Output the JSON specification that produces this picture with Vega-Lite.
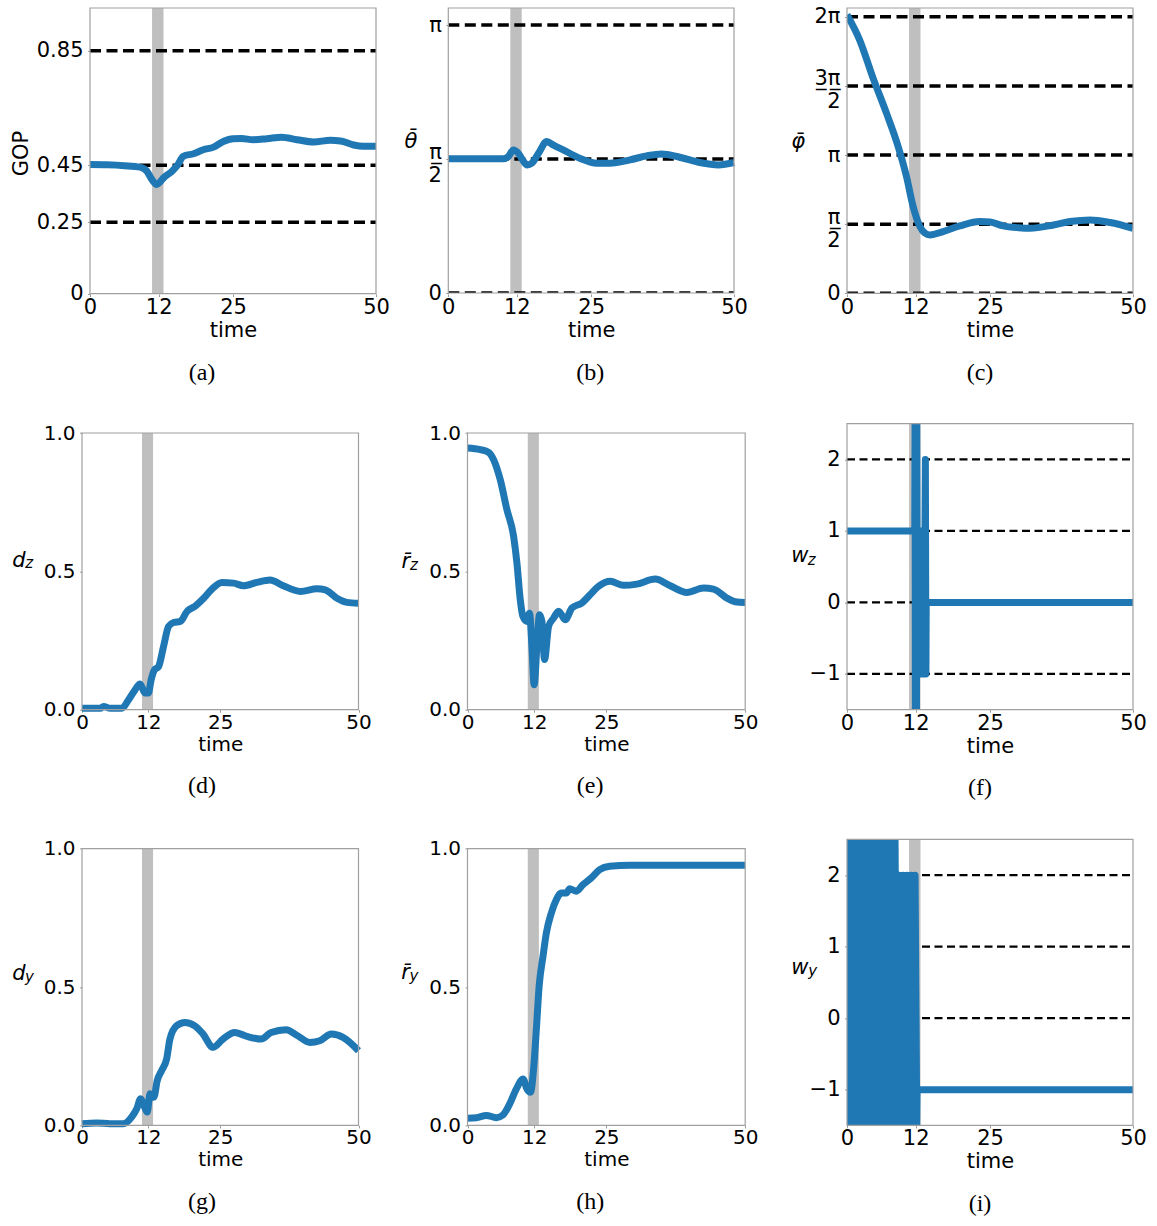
{
  "$schema": "https://vega.github.io/schema/vega-lite/v6.json",
  "padding": {"left": 0, "top": 5, "right": 0, "bottom": 0},
  "background": "white",
  "columns": 3,
  "spacing": {"row": 129.7, "column": 50},
  "bounds": "flush",
  "align": "each",
  "datasets": {
    "band": [{"time": 10.85, "end": 12.85}],
    "ref_a": [{"value": 0.25}, {"value": 0.45}, {"value": 0.85}],
    "ref_b": [{"value": 0}, {"value": 1.5707963}, {"value": 3.1415927}],
    "ref_c": [{"value": 0}, {"value": 1.5707963}, {"value": 3.1415927}, {"value": 4.712389}, {"value": 6.2831853}],
    "ref_w": [{"value": -1}, {"value": 0}, {"value": 1}, {"value": 2}],
    "gop": [{"time":0,"value":0.452},{"time":3,"value":0.451},{"time":6,"value":0.448},{"time":8.75,"value":0.443},{"time":9.9,"value":0.43},{"time":10.8,"value":0.4},{"time":11.67,"value":0.382},{"time":12.2,"value":0.39},{"time":12.83,"value":0.405},{"time":14.3,"value":0.428},{"time":15.3,"value":0.45},{"time":16.3,"value":0.481},{"time":18.1,"value":0.49},{"time":19.8,"value":0.504},{"time":21.6,"value":0.513},{"time":23.3,"value":0.533},{"time":25,"value":0.5425},{"time":26.5,"value":0.543},{"time":28.5,"value":0.539},{"time":30.9,"value":0.5425},{"time":33.5,"value":0.548},{"time":36.2,"value":0.539},{"time":39.1,"value":0.531},{"time":42,"value":0.537},{"time":43.8,"value":0.5345},{"time":46.1,"value":0.5205},{"time":47.8,"value":0.516},{"time":50,"value":0.516}],
    "theta": [{"time":0,"value":1.573},{"time":9.6,"value":1.573},{"time":10.5,"value":1.6},{"time":11.4,"value":1.678},{"time":12.25,"value":1.639},{"time":13,"value":1.56},{"time":13.8,"value":1.502},{"time":14.6,"value":1.522},{"time":15.9,"value":1.65},{"time":17.2,"value":1.776},{"time":18.5,"value":1.73},{"time":20.1,"value":1.678},{"time":23,"value":1.581},{"time":26,"value":1.522},{"time":28.3,"value":1.522},{"time":31.8,"value":1.561},{"time":34.7,"value":1.608},{"time":37.3,"value":1.631},{"time":40.5,"value":1.592},{"time":44,"value":1.53},{"time":47.3,"value":1.502},{"time":50,"value":1.53}],
    "phi": [{"time":0,"value":6.33},{"time":2.2,"value":5.76},{"time":4.56,"value":4.89},{"time":6.9,"value":4.094},{"time":8.94,"value":3.336},{"time":10.4,"value":2.654},{"time":11.56,"value":1.972},{"time":12.74,"value":1.517},{"time":13.6,"value":1.37},{"time":14.5,"value":1.326},{"time":16.8,"value":1.403},{"time":19.7,"value":1.531},{"time":23.2,"value":1.631},{"time":25,"value":1.62},{"time":27.3,"value":1.531},{"time":30,"value":1.49},{"time":32,"value":1.478},{"time":36.1,"value":1.553},{"time":39,"value":1.63},{"time":42.5,"value":1.667},{"time":46,"value":1.608},{"time":50,"value":1.478}],
    "dz": [{"time":0,"value":0.005},{"time":3.3,"value":0.005},{"time":3.9,"value":0.012},{"time":5.1,"value":0.005},{"time":7.2,"value":0.005},{"time":8.4,"value":0.035},{"time":9.6,"value":0.072},{"time":10.5,"value":0.093},{"time":11.4,"value":0.06},{"time":12,"value":0.06},{"time":12.5,"value":0.108},{"time":13.1,"value":0.144},{"time":13.85,"value":0.156},{"time":14.75,"value":0.229},{"time":15.65,"value":0.301},{"time":16.56,"value":0.315},{"time":17.77,"value":0.319},{"time":18.98,"value":0.355},{"time":20.5,"value":0.375},{"time":22,"value":0.403},{"time":23.5,"value":0.436},{"time":25.3,"value":0.46},{"time":27.4,"value":0.4575},{"time":29.2,"value":0.448},{"time":31.6,"value":0.46},{"time":34,"value":0.469},{"time":36.4,"value":0.448},{"time":39.5,"value":0.4275},{"time":42.5,"value":0.437},{"time":44,"value":0.433},{"time":46.1,"value":0.403},{"time":47.9,"value":0.388},{"time":50,"value":0.385}],
    "rz": [{"time":0,"value":0.946},{"time":2.3,"value":0.94},{"time":3.8,"value":0.93},{"time":4.7,"value":0.9035},{"time":5.9,"value":0.831},{"time":7.1,"value":0.723},{"time":8.3,"value":0.627},{"time":8.9,"value":0.53},{"time":9.5,"value":0.3975},{"time":9.97,"value":0.3375},{"time":10.7,"value":0.319},{"time":11.16,"value":0.349},{"time":11.6,"value":0.229},{"time":12,"value":0.09},{"time":12.5,"value":0.229},{"time":12.96,"value":0.343},{"time":13.4,"value":0.32},{"time":13.87,"value":0.181},{"time":14.6,"value":0.301},{"time":15.5,"value":0.331},{"time":16.4,"value":0.356},{"time":17.6,"value":0.325},{"time":18.8,"value":0.3675},{"time":20.6,"value":0.386},{"time":22.1,"value":0.416},{"time":23.6,"value":0.446},{"time":25.7,"value":0.464},{"time":28.1,"value":0.4495},{"time":30.5,"value":0.454},{"time":33.8,"value":0.472},{"time":36.5,"value":0.448},{"time":39.5,"value":0.424},{"time":42.5,"value":0.44},{"time":44.3,"value":0.436},{"time":46.7,"value":0.4035},{"time":48.2,"value":0.39},{"time":50,"value":0.387}],
    "wz": [{"time":0,"value":1},{"time":11.85,"value":1},{"time":11.9,"value":2.5},{"time":11.95,"value":-1.5},{"time":12.0,"value":2.5},{"time":12.05,"value":-1.5},{"time":12.1,"value":2.5},{"time":12.15,"value":-1.5},{"time":12.2,"value":2.5},{"time":12.3,"value":-1},{"time":12.4,"value":1},{"time":12.5,"value":-1},{"time":12.6,"value":1},{"time":12.7,"value":-1},{"time":12.8,"value":1},{"time":12.9,"value":-1},{"time":13.0,"value":1},{"time":13.1,"value":-1},{"time":13.2,"value":1},{"time":13.3,"value":-1},{"time":13.4,"value":1},{"time":13.5,"value":-1},{"time":13.7,"value":2},{"time":13.8,"value":-1},{"time":13.85,"value":0},{"time":50,"value":0}],
    "dy": [{"time":0,"value":0.006},{"time":2.65,"value":0.009},{"time":5.05,"value":0.006},{"time":7.45,"value":0.006},{"time":8.97,"value":0.03},{"time":9.9,"value":0.06},{"time":10.6,"value":0.096},{"time":11.2,"value":0.072},{"time":11.8,"value":0.048},{"time":12.3,"value":0.114},{"time":13,"value":0.102},{"time":13.6,"value":0.162},{"time":14.4,"value":0.198},{"time":15.3,"value":0.24},{"time":15.9,"value":0.312},{"time":17.1,"value":0.36},{"time":18.6,"value":0.372},{"time":20.4,"value":0.36},{"time":21.9,"value":0.33},{"time":23.7,"value":0.282},{"time":25.5,"value":0.312},{"time":27.6,"value":0.336},{"time":30,"value":0.3205},{"time":32.4,"value":0.312},{"time":34.2,"value":0.336},{"time":36.9,"value":0.346},{"time":39,"value":0.324},{"time":41.2,"value":0.3},{"time":43,"value":0.306},{"time":45.1,"value":0.33},{"time":47.2,"value":0.318},{"time":50,"value":0.27}],
    "ry": [{"time":0,"value":0.026},{"time":1.6,"value":0.028},{"time":3.4,"value":0.036},{"time":5.2,"value":0.028},{"time":6.4,"value":0.038},{"time":7.6,"value":0.078},{"time":8.8,"value":0.132},{"time":10,"value":0.168},{"time":10.7,"value":0.132},{"time":11.35,"value":0.12},{"time":11.9,"value":0.204},{"time":12.4,"value":0.348},{"time":12.9,"value":0.504},{"time":13.6,"value":0.612},{"time":14.2,"value":0.696},{"time":15.1,"value":0.768},{"time":16,"value":0.816},{"time":16.9,"value":0.84},{"time":17.8,"value":0.84},{"time":18.4,"value":0.855},{"time":19.6,"value":0.8465},{"time":20.8,"value":0.87},{"time":22.3,"value":0.8945},{"time":23.8,"value":0.924},{"time":25.6,"value":0.9365},{"time":29.2,"value":0.94},{"time":37,"value":0.94},{"time":50,"value":0.94}],
    "wy": [{"time":0,"value":2.5},{"time":0.35,"value":-1.5},{"time":0.7,"value":2.5},{"time":1.05,"value":-1.5},{"time":1.4,"value":2.5},{"time":1.75,"value":-1.5},{"time":2.1,"value":2.5},{"time":2.45,"value":-1.5},{"time":2.8,"value":2.5},{"time":3.15,"value":-1.5},{"time":3.5,"value":2.5},{"time":3.85,"value":-1.5},{"time":4.2,"value":2.5},{"time":4.55,"value":-1.5},{"time":4.9,"value":2.5},{"time":5.25,"value":-1.5},{"time":5.6,"value":2.5},{"time":5.95,"value":-1.5},{"time":6.3,"value":2.5},{"time":6.65,"value":-1.5},{"time":7.0,"value":2.5},{"time":7.35,"value":-1.5},{"time":7.7,"value":2.5},{"time":8.05,"value":-1.5},{"time":8.4,"value":2.5},{"time":8.75,"value":-1.5},{"time":9.1,"value":2},{"time":9.45,"value":-1.5},{"time":9.8,"value":2},{"time":10.15,"value":-1.5},{"time":10.5,"value":2},{"time":10.85,"value":-1.5},{"time":11.2,"value":2},{"time":11.55,"value":-1.5},{"time":11.9,"value":2},{"time":12.2,"value":-1.5},{"time":12.25,"value":-1},{"time":50,"value":-1}]
  },
  "concat": [
    {
      "width": 376, "height": 286,
      "title": {"text": "(a)", "dx": 14},
      "layer": [
        {"data": {"name": "band"}, "mark": {"type": "rect", "color": "#bfbfbf"}, "encoding": {"x": {"field": "time", "type": "quantitative", "scale": {"domain": [0, 50], "range": [90, 376], "nice": false, "zero": false}}, "x2": {"field": "end"}, "y": {"datum": 0, "type": "quantitative", "scale": {"domain": [0, 1], "range": [285.7, 0], "nice": false, "zero": false}}, "y2": {"datum": 1}}},
        {"data": {"name": "ref_a"}, "mark": {"type": "rule", "color": "#000000", "strokeWidth": 3.5, "strokeDash": [11, 5.5]}, "encoding": {"x": {"datum": 0, "type": "quantitative"}, "x2": {"datum": 50}, "y": {"field": "value", "type": "quantitative"}}},
        {"data": {"name": "gop"}, "mark": {"type": "line", "color": "#1f77b4", "strokeWidth": 7, "strokeCap": "butt", "strokeJoin": "round", "interpolate": "monotone"}, "encoding": {
          "x": {"field": "time", "type": "quantitative", "axis": {"values": [0, 12, 25, 50], "format": "d", "title": "time"}},
          "y": {"field": "value", "type": "quantitative", "axis": {"values": [0, 0.25, 0.45, 0.85], "labelExpr": "datum.value == 0 ? '0' : format(datum.value, '.2f')", "offset": -90, "title": "GOP", "titleAngle": 270, "titleX": -69, "titleY": 145, "titleAlign": "center", "titleBaseline": "middle"}}}},
        {"data": {"values": [{}]}, "mark": {"type": "rect", "filled": false, "stroke": "#a0a0a0", "strokeWidth": 1.2}, "encoding": {"x": {"datum": 0, "type": "quantitative"}, "x2": {"datum": 50}, "y": {"datum": 0, "type": "quantitative"}, "y2": {"datum": 1}}}
      ]
    },
    {
      "width": 370.3, "height": 286,
      "title": {"text": "(b)", "dx": -21},
      "layer": [
        {"data": {"name": "band"}, "mark": {"type": "rect", "color": "#bfbfbf"}, "encoding": {"x": {"field": "time", "type": "quantitative", "scale": {"domain": [0, 50], "range": [22.3, 308], "nice": false, "zero": false}}, "x2": {"field": "end"}, "y": {"datum": 0, "type": "quantitative", "scale": {"domain": [0, 3.3416], "range": [285, 0], "nice": false, "zero": false}}, "y2": {"datum": 3.3416}}},
        {"data": {"name": "ref_b"}, "transform": [{"filter": "datum.value > 0"}], "mark": {"type": "rule", "color": "#000000", "strokeWidth": 3.5, "strokeDash": [11, 5.5]}, "encoding": {"x": {"datum": 0, "type": "quantitative"}, "x2": {"datum": 50}, "y": {"field": "value", "type": "quantitative"}}},
        {"data": {"name": "ref_b"}, "transform": [{"filter": "datum.value == 0"}], "mark": {"type": "rule", "color": "#000000", "strokeWidth": 1.8, "yOffset": -0.9, "strokeDash": [11, 5.5]}, "encoding": {"x": {"datum": 0, "type": "quantitative"}, "x2": {"datum": 50}, "y": {"field": "value", "type": "quantitative"}}},
        {"data": {"name": "theta"}, "mark": {"type": "line", "color": "#1f77b4", "strokeWidth": 7, "strokeCap": "butt", "strokeJoin": "round", "interpolate": "monotone"}, "encoding": {
          "x": {"field": "time", "type": "quantitative", "axis": {"values": [0, 12, 25, 50], "format": "d", "title": "time"}},
          "y": {"field": "value", "type": "quantitative", "axis": {"values": [0, 1.5707963, 3.1415927], "labelExpr": "datum.value < 0.1 ? '0' : datum.value < 2 ? ['\u03c0\u0332', '2'] : '\u03c0'", "labelLineHeight": 23, "labelOffset": {"condition": {"test": "datum.value > 1 && datum.value < 2", "value": -7}, "value": 0}, "offset": -22.3, "title": "\u03b8\u0304", "titleFontSize": 21, "titleFontStyle": "italic", "titleAngle": 0, "titleX": -37.8, "titleY": 139, "titleAlign": "center", "titleBaseline": "alphabetic"}}}},
        {"data": {"values": [{}]}, "mark": {"type": "rect", "filled": false, "stroke": "#a0a0a0", "strokeWidth": 1.2}, "encoding": {"x": {"datum": 0, "type": "quantitative"}, "x2": {"datum": 50}, "y": {"datum": 0, "type": "quantitative"}, "y2": {"datum": 3.3416}}}
      ]
    },
    {
      "width": 286, "height": 286,
      "title": {"text": "(c)", "dx": -10},
      "layer": [
        {"data": {"name": "band"}, "mark": {"type": "rect", "color": "#bfbfbf"}, "encoding": {"x": {"field": "time", "type": "quantitative", "scale": {"domain": [0, 50], "range": [0, 286], "nice": false, "zero": false}}, "x2": {"field": "end"}, "y": {"datum": 0, "type": "quantitative", "scale": {"domain": [0, 6.4832], "range": [285.3, 0], "nice": false, "zero": false}}, "y2": {"datum": 6.4832}}},
        {"data": {"name": "ref_c"}, "transform": [{"filter": "datum.value > 0"}], "mark": {"type": "rule", "color": "#000000", "strokeWidth": 3.5, "strokeDash": [11, 5.5]}, "encoding": {"x": {"datum": 0, "type": "quantitative"}, "x2": {"datum": 50}, "y": {"field": "value", "type": "quantitative"}}},
        {"data": {"name": "ref_c"}, "transform": [{"filter": "datum.value == 0"}], "mark": {"type": "rule", "color": "#000000", "strokeWidth": 1.8, "yOffset": -0.9, "strokeDash": [11, 5.5]}, "encoding": {"x": {"datum": 0, "type": "quantitative"}, "x2": {"datum": 50}, "y": {"field": "value", "type": "quantitative"}}},
        {"data": {"name": "phi"}, "mark": {"type": "line", "color": "#1f77b4", "strokeWidth": 7, "strokeCap": "butt", "strokeJoin": "round", "clip": true, "interpolate": "monotone"}, "encoding": {
          "x": {"field": "time", "type": "quantitative", "axis": {"values": [0, 12, 25, 50], "format": "d", "title": "time"}},
          "y": {"field": "value", "type": "quantitative", "axis": {"values": [0, 1.5707963, 3.1415927, 4.712389, 6.2831853], "labelExpr": "datum.value < 0.1 ? '0' : datum.value < 2 ? ['\u03c0\u0332', '2'] : datum.value < 4 ? '\u03c0' : datum.value < 5 ? ['3\u0332\u03c0\u0332', '2'] : '2\u03c0'", "labelLineHeight": 23, "labelOffset": {"condition": {"test": "(datum.value > 1 && datum.value < 2) || (datum.value > 4 && datum.value < 5)", "value": -7}, "value": 0}, "title": "\u03c6\u0304", "titleFontSize": 21, "titleFontStyle": "italic", "titleAngle": 0, "titleX": -49.3, "titleY": 139, "titleAlign": "center", "titleBaseline": "alphabetic"}}}},
        {"data": {"values": [{}]}, "mark": {"type": "rect", "filled": false, "stroke": "#a0a0a0", "strokeWidth": 1.2}, "encoding": {"x": {"datum": 0, "type": "quantitative"}, "x2": {"datum": 50}, "y": {"datum": 0, "type": "quantitative"}, "y2": {"datum": 6.4832}}}
      ]
    },
    {
      "width": 376, "height": 286,
      "title": {"text": "(d)", "dx": 14},
      "layer": [
        {"data": {"name": "band"}, "mark": {"type": "rect", "color": "#bfbfbf"}, "encoding": {"x": {"field": "time", "type": "quantitative", "scale": {"domain": [0, 50], "range": [82, 358.5], "nice": false, "zero": false}}, "x2": {"field": "end"}, "y": {"datum": 0, "type": "quantitative", "scale": {"domain": [0, 1], "range": [286, 9.3], "nice": false, "zero": false}}, "y2": {"datum": 1}}},
        {"data": {"name": "dz"}, "mark": {"type": "line", "color": "#1f77b4", "strokeWidth": 7, "strokeCap": "butt", "strokeJoin": "round", "interpolate": "monotone"}, "encoding": {
          "x": {"field": "time", "type": "quantitative", "axis": {"values": [0, 12, 25, 50], "format": "d", "title": "time", "labelFontSize": 20, "titleFontSize": 20}},
          "y": {"field": "value", "type": "quantitative", "axis": {"values": [0, 0.5, 1], "labelExpr": "format(datum.value, '.1f')", "labelFontSize": 20, "offset": -82, "title": "d", "titleFontSize": 21, "titleFontStyle": "italic", "titleAngle": 0, "titleX": -63.7, "titleY": 142.6, "titleAlign": "center", "titleBaseline": "alphabetic"}}}},
        {"data": {"values": [{}]}, "mark": {"type": "rect", "filled": false, "stroke": "#a0a0a0", "strokeWidth": 1.2}, "encoding": {"x": {"datum": 0, "type": "quantitative"}, "x2": {"datum": 50}, "y": {"datum": 0, "type": "quantitative"}, "y2": {"datum": 1}}},
        {"data": {"values": [{}]}, "mark": {"type": "text", "text": "z", "font": "DejaVu Sans", "fontStyle": "italic", "fontSize": 15, "align": "center", "baseline": "alphabetic", "dx": -52.8, "dy": -3.4, "color": "#000000"}, "encoding": {"x": {"datum": 0, "type": "quantitative"}, "y": {"datum": 0.5, "type": "quantitative"}}}
      ]
    },
    {
      "width": 370.3, "height": 286,
      "title": {"text": "(e)", "dx": -21},
      "layer": [
        {"data": {"name": "band"}, "mark": {"type": "rect", "color": "#bfbfbf"}, "encoding": {"x": {"field": "time", "type": "quantitative", "scale": {"domain": [0, 50], "range": [41.5, 319.2], "nice": false, "zero": false}}, "x2": {"field": "end"}, "y": {"datum": 0, "type": "quantitative", "scale": {"domain": [0, 1], "range": [286, 9.3], "nice": false, "zero": false}}, "y2": {"datum": 1}}},
        {"data": {"name": "rz"}, "mark": {"type": "line", "color": "#1f77b4", "strokeWidth": 7, "strokeCap": "butt", "strokeJoin": "round", "interpolate": "monotone"}, "encoding": {
          "x": {"field": "time", "type": "quantitative", "axis": {"values": [0, 12, 25, 50], "format": "d", "title": "time", "labelFontSize": 20, "titleFontSize": 20}},
          "y": {"field": "value", "type": "quantitative", "axis": {"values": [0, 0.5, 1], "labelExpr": "format(datum.value, '.1f')", "labelFontSize": 20, "offset": -41.5, "title": "r\u0304", "titleFontSize": 21, "titleFontStyle": "italic", "titleAngle": 0, "titleX": -62.2, "titleY": 143.3, "titleAlign": "center", "titleBaseline": "alphabetic"}}}},
        {"data": {"values": [{}]}, "mark": {"type": "rect", "filled": false, "stroke": "#a0a0a0", "strokeWidth": 1.2}, "encoding": {"x": {"datum": 0, "type": "quantitative"}, "x2": {"datum": 50}, "y": {"datum": 0, "type": "quantitative"}, "y2": {"datum": 1}}},
        {"data": {"values": [{}]}, "mark": {"type": "text", "text": "z", "font": "DejaVu Sans", "fontStyle": "italic", "fontSize": 15, "align": "center", "baseline": "alphabetic", "dx": -53.5, "dy": -1.7, "color": "#000000"}, "encoding": {"x": {"datum": 0, "type": "quantitative"}, "y": {"datum": 0.5, "type": "quantitative"}}}
      ]
    },
    {
      "width": 286, "height": 286,
      "title": {"text": "(f)", "dx": -10},
      "layer": [
        {"data": {"name": "band"}, "mark": {"type": "rect", "color": "#bfbfbf"}, "encoding": {"x": {"field": "time", "type": "quantitative", "scale": {"domain": [0, 50], "range": [0, 286], "nice": false, "zero": false}}, "x2": {"field": "end"}, "y": {"datum": -1.5, "type": "quantitative", "scale": {"domain": [-1.5, 2.5], "range": [286, 0], "nice": false, "zero": false}}, "y2": {"datum": 2.5}}},
        {"data": {"name": "ref_w"}, "mark": {"type": "rule", "color": "#000000", "strokeWidth": 2.2, "strokeDash": [8, 4.5]}, "encoding": {"x": {"datum": 0, "type": "quantitative"}, "x2": {"datum": 50}, "y": {"field": "value", "type": "quantitative"}}},
        {"data": {"name": "wz"}, "mark": {"type": "line", "color": "#1f77b4", "strokeWidth": 7, "strokeCap": "butt", "strokeJoin": "round", "clip": true}, "encoding": {
          "x": {"field": "time", "type": "quantitative", "axis": {"values": [0, 12, 25, 50], "format": "d", "title": "time"}},
          "y": {"field": "value", "type": "quantitative", "axis": {"values": [-1, 0, 1, 2], "labelExpr": "datum.value < 0 ? '\u22121' : format(datum.value, 'd')", "title": "w", "titleFontSize": 21, "titleFontStyle": "italic", "titleAngle": 0, "titleX": -47.6, "titleY": 137.6, "titleAlign": "center", "titleBaseline": "alphabetic"}}}},
        {"data": {"values": [{}]}, "mark": {"type": "rect", "filled": false, "stroke": "#a0a0a0", "strokeWidth": 1.2}, "encoding": {"x": {"datum": 0, "type": "quantitative"}, "x2": {"datum": 50}, "y": {"datum": -1.5, "type": "quantitative"}, "y2": {"datum": 2.5}}},
        {"data": {"values": [{}]}, "mark": {"type": "text", "text": "z", "font": "DejaVu Sans", "fontStyle": "italic", "fontSize": 15, "align": "center", "baseline": "alphabetic", "dx": -35.3, "dy": -2, "color": "#000000"}, "encoding": {"x": {"datum": 0, "type": "quantitative"}, "y": {"datum": 0.5, "type": "quantitative"}}}
      ]
    },
    {
      "width": 376, "height": 286,
      "title": {"text": "(g)", "dx": 14},
      "layer": [
        {"data": {"name": "band"}, "mark": {"type": "rect", "color": "#bfbfbf"}, "encoding": {"x": {"field": "time", "type": "quantitative", "scale": {"domain": [0, 50], "range": [82, 358.5], "nice": false, "zero": false}}, "x2": {"field": "end"}, "y": {"datum": 0, "type": "quantitative", "scale": {"domain": [0, 1], "range": [286, 9.3], "nice": false, "zero": false}}, "y2": {"datum": 1}}},
        {"data": {"name": "dy"}, "mark": {"type": "line", "color": "#1f77b4", "strokeWidth": 7, "strokeCap": "butt", "strokeJoin": "round", "interpolate": "monotone"}, "encoding": {
          "x": {"field": "time", "type": "quantitative", "axis": {"values": [0, 12, 25, 50], "format": "d", "title": "time", "labelFontSize": 20, "titleFontSize": 20}},
          "y": {"field": "value", "type": "quantitative", "axis": {"values": [0, 0.5, 1], "labelExpr": "format(datum.value, '.1f')", "labelFontSize": 20, "offset": -82, "title": "d", "titleFontSize": 21, "titleFontStyle": "italic", "titleAngle": 0, "titleX": -63.7, "titleY": 140.3, "titleAlign": "center", "titleBaseline": "alphabetic"}}}},
        {"data": {"values": [{}]}, "mark": {"type": "rect", "filled": false, "stroke": "#a0a0a0", "strokeWidth": 1.2}, "encoding": {"x": {"datum": 0, "type": "quantitative"}, "x2": {"datum": 50}, "y": {"datum": 0, "type": "quantitative"}, "y2": {"datum": 1}}},
        {"data": {"values": [{}]}, "mark": {"type": "text", "text": "y", "font": "DejaVu Sans", "fontStyle": "italic", "fontSize": 15, "align": "center", "baseline": "alphabetic", "dx": -52.5, "dy": -5, "color": "#000000"}, "encoding": {"x": {"datum": 0, "type": "quantitative"}, "y": {"datum": 0.5, "type": "quantitative"}}}
      ]
    },
    {
      "width": 370.3, "height": 286,
      "title": {"text": "(h)", "dx": -21},
      "layer": [
        {"data": {"name": "band"}, "mark": {"type": "rect", "color": "#bfbfbf"}, "encoding": {"x": {"field": "time", "type": "quantitative", "scale": {"domain": [0, 50], "range": [41.5, 319.2], "nice": false, "zero": false}}, "x2": {"field": "end"}, "y": {"datum": 0, "type": "quantitative", "scale": {"domain": [0, 1], "range": [286, 9.3], "nice": false, "zero": false}}, "y2": {"datum": 1}}},
        {"data": {"name": "ry"}, "mark": {"type": "line", "color": "#1f77b4", "strokeWidth": 7, "strokeCap": "butt", "strokeJoin": "round", "interpolate": "monotone"}, "encoding": {
          "x": {"field": "time", "type": "quantitative", "axis": {"values": [0, 12, 25, 50], "format": "d", "title": "time", "labelFontSize": 20, "titleFontSize": 20}},
          "y": {"field": "value", "type": "quantitative", "axis": {"values": [0, 0.5, 1], "labelExpr": "format(datum.value, '.1f')", "labelFontSize": 20, "offset": -41.5, "title": "r\u0304", "titleFontSize": 21, "titleFontStyle": "italic", "titleAngle": 0, "titleX": -62.5, "titleY": 138.6, "titleAlign": "center", "titleBaseline": "alphabetic"}}}},
        {"data": {"values": [{}]}, "mark": {"type": "rect", "filled": false, "stroke": "#a0a0a0", "strokeWidth": 1.2}, "encoding": {"x": {"datum": 0, "type": "quantitative"}, "x2": {"datum": 50}, "y": {"datum": 0, "type": "quantitative"}, "y2": {"datum": 1}}},
        {"data": {"values": [{}]}, "mark": {"type": "text", "text": "y", "font": "DejaVu Sans", "fontStyle": "italic", "fontSize": 15, "align": "center", "baseline": "alphabetic", "dx": -53.5, "dy": -6.5, "color": "#000000"}, "encoding": {"x": {"datum": 0, "type": "quantitative"}, "y": {"datum": 0.5, "type": "quantitative"}}}
      ]
    },
    {
      "width": 286, "height": 286,
      "title": {"text": "(i)", "dx": -10},
      "layer": [
        {"data": {"name": "band"}, "mark": {"type": "rect", "color": "#bfbfbf"}, "encoding": {"x": {"field": "time", "type": "quantitative", "scale": {"domain": [0, 50], "range": [0, 286], "nice": false, "zero": false}}, "x2": {"field": "end"}, "y": {"datum": -1.5, "type": "quantitative", "scale": {"domain": [-1.5, 2.5], "range": [286, 0], "nice": false, "zero": false}}, "y2": {"datum": 2.5}}},
        {"data": {"name": "ref_w"}, "mark": {"type": "rule", "color": "#000000", "strokeWidth": 2.2, "strokeDash": [8, 4.5]}, "encoding": {"x": {"datum": 0, "type": "quantitative"}, "x2": {"datum": 50}, "y": {"field": "value", "type": "quantitative"}}},
        {"data": {"name": "wy"}, "mark": {"type": "line", "color": "#1f77b4", "strokeWidth": 7, "strokeCap": "butt", "strokeJoin": "round", "clip": true}, "encoding": {
          "x": {"field": "time", "type": "quantitative", "axis": {"values": [0, 12, 25, 50], "format": "d", "title": "time"}},
          "y": {"field": "value", "type": "quantitative", "axis": {"values": [-1, 0, 1, 2], "labelExpr": "datum.value < 0 ? '\u22121' : format(datum.value, 'd')", "title": "w", "titleFontSize": 21, "titleFontStyle": "italic", "titleAngle": 0, "titleX": -47.6, "titleY": 133.6, "titleAlign": "center", "titleBaseline": "alphabetic"}}}},
        {"data": {"values": [{}]}, "mark": {"type": "rect", "filled": false, "stroke": "#a0a0a0", "strokeWidth": 1.2}, "encoding": {"x": {"datum": 0, "type": "quantitative"}, "x2": {"datum": 50}, "y": {"datum": -1.5, "type": "quantitative"}, "y2": {"datum": 2.5}}},
        {"data": {"values": [{}]}, "mark": {"type": "text", "text": "y", "font": "DejaVu Sans", "fontStyle": "italic", "fontSize": 15, "align": "center", "baseline": "alphabetic", "dx": -34.3, "dy": -6.9, "color": "#000000"}, "encoding": {"x": {"datum": 0, "type": "quantitative"}, "y": {"datum": 0.5, "type": "quantitative"}}}
      ]
    }
  ],
  "config": {
    "view": {"stroke": null},
    "font": "DejaVu Sans",
    "axis": {"grid": false, "domain": false, "tickColor": "#999999", "tickSize": 2.5, "tickWidth": 1, "labelFont": "DejaVu Sans", "labelFontSize": 21, "labelColor": "#000000", "titleFont": "DejaVu Sans", "titleFontSize": 21, "titleColor": "#000000", "titleFontWeight": "normal", "labelFlush": false, "labelOverlap": false, "labelBound": false, "labelPadding": 0, "titlePadding": 2},
    "axisY": {"labelPadding": 4.5},
    "title": {"orient": "bottom", "anchor": "middle", "frame": "group", "font": "Liberation Serif", "fontSize": 24, "fontWeight": "normal", "color": "#000000", "offset": 20}
  }
}
